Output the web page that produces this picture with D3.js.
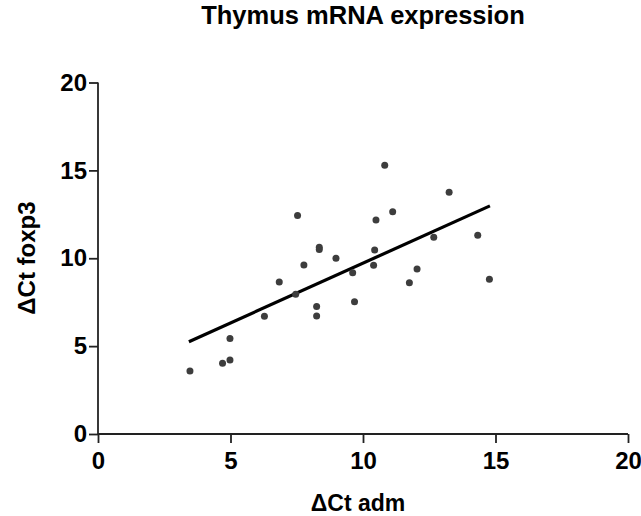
<!DOCTYPE html>
<html>
<head>
  <style>
    body { margin: 0; background: #fff; }
    text { font-family: "Liberation Sans", Arial, Helvetica, sans-serif; font-weight: bold; fill: #000; }
    .title { font-size: 25.5px; }
    .axis-label { font-size: 23px; }
    .tick text { font-size: 24px; }
    .axis path, .axis line { stroke: #222; stroke-width: 1.8px; }
    .dot { fill: #3d3d3d; }
    .fit { stroke: #000; stroke-width: 3.2px; }
  </style>
  <title>Thymus mRNA expression</title>
</head>
<body>
  <script src="https://cdn.jsdelivr.net/npm/d3@7"></script>
  <script>
    // data
    const admCt = [3.47, 4.70, 4.98, 4.98, 6.28, 6.84, 7.46, 7.53, 7.77, 8.25, 8.25, 8.35, 8.35, 8.98,
                   9.61, 9.68, 10.40, 10.44, 10.49, 10.82, 11.12, 11.75, 12.04, 12.67, 13.25, 14.33, 14.77];
    const foxp3Ct = [3.59, 4.02, 4.21, 5.43, 6.70, 8.65, 7.95, 12.43, 9.62, 7.25, 6.72, 10.62, 10.50, 10.00,
                     9.18, 7.53, 9.60, 10.47, 12.18, 15.29, 12.65, 8.61, 9.39, 11.19, 13.76, 11.31, 8.80];
    // regression line end points
    const fitX = [3.43, 14.79];
    const fitY = [5.25, 12.98];
    const ticks = [0, 5, 10, 15, 20];

    const svg = d3.select("body").append("svg")
      .attr("width", 641)
      .attr("height", 516);

    // scales
    const x = d3.scaleLinear().domain([0, 20]).range([98, 628]);
    const y = d3.scaleLinear().domain([0, 20]).range([434, 82.5]);

    // x axis
    svg.append("g")
      .attr("class", "axis")
      .attr("transform", `translate(0,${y(0)})`)
      .call(d3.axisBottom(x).tickValues(ticks).tickSize(9).tickSizeOuter(0).tickPadding(9))
      .call(g => g.select(".domain").attr("d", `M${x(0)},0H${x(20)}`));

    // y axis
    svg.append("g")
      .attr("class", "axis")
      .attr("transform", `translate(${x(0)},0)`)
      .call(d3.axisLeft(y).tickValues(ticks).tickSize(9).tickSizeOuter(0).tickPadding(2))
      .call(g => g.select(".domain").attr("d", `M0,${y(0)}V${y(20)}`));

    // fit line
    const pts = fitX.map((v, i) => [v, fitY[i]]);
    svg.append("path")
      .attr("class", "fit")
      .attr("fill", "none")
      .attr("d", d3.line().x(d => x(d[0])).y(d => y(d[1]))(pts));

    // dots
    svg.append("g").selectAll("circle")
      .data(admCt.map((v, i) => ({ a: v, f: foxp3Ct[i] })))
      .enter()
      .append("circle")
      .attr("class", "dot")
      .attr("cx", d => x(d.a))
      .attr("cy", d => y(d.f))
      .attr("r", 3.5);

    // title
    svg.append("text")
      .attr("class", "title")
      .attr("x", 363)
      .attr("y", 24)
      .attr("text-anchor", "middle")
      .text("Thymus mRNA expression");

    // axis labels
    svg.append("text")
      .attr("class", "axis-label")
      .attr("x", 358)
      .attr("y", 511)
      .attr("text-anchor", "middle")
      .text("ΔCt adm");

    svg.append("text")
      .attr("class", "axis-label")
      .attr("transform", "translate(35,258) rotate(-90)")
      .attr("text-anchor", "middle")
      .style("font-size", "24px")
      .text("ΔCt foxp3");
  </script>
</body>
</html>
